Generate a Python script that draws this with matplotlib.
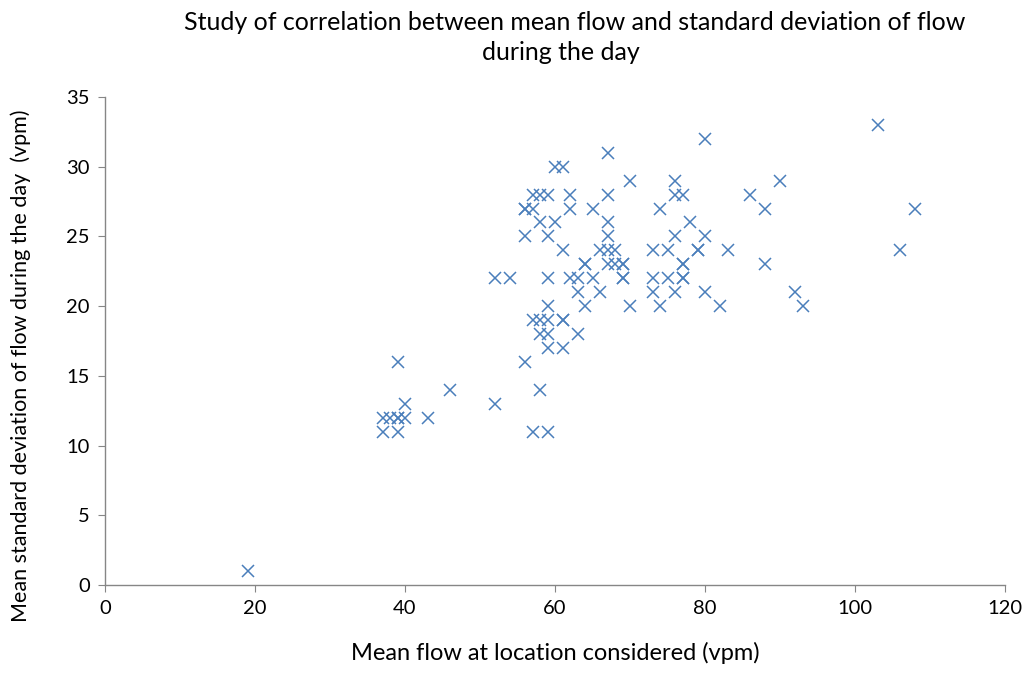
import matplotlib
matplotlib.use("Agg")
import matplotlib.pyplot as plt

mean_flow = [19,
             37, 37, 38, 39, 39, 39, 39, 40, 40, 43, 46,
             52, 52, 54,
             56, 56, 56, 56, 57, 57, 57, 57, 58, 58, 58, 58, 58,
             59, 59, 59, 59, 59, 59, 59, 59,
             60, 60, 61, 61, 61, 61, 61, 62, 62, 62, 63, 63, 63,
             64, 64, 64, 65, 65, 66, 66, 67, 67, 67, 67, 67, 67,
             68, 68, 69, 69, 69, 69, 70, 70,
             73, 73, 73, 74, 74, 75, 75, 76, 76, 76, 76,
             77, 77, 77, 77, 77, 78, 79, 79, 80, 80, 80, 82, 83,
             86, 88, 88, 90, 92, 93, 103, 106, 108]
std_flow = [1,
            12, 11, 12, 12, 12, 16, 11, 12, 13, 12, 14,
            22, 13, 22,
            27, 27, 25, 16, 27, 28, 19, 11, 28, 26, 19, 18, 14,
            28, 25, 22, 20, 19, 18, 17, 11,
            30, 26, 30, 24, 19, 19, 17, 28, 27, 22, 22, 21, 18,
            23, 23, 20, 27, 22, 24, 21, 31, 28, 26, 25, 24, 23,
            24, 23, 23, 23, 22, 22, 29, 20,
            24, 22, 21, 27, 20, 24, 22, 29, 28, 25, 21,
            28, 23, 23, 22, 22, 26, 24, 24, 32, 25, 21, 20, 24,
            28, 27, 23, 29, 21, 20, 33, 24, 27]

x_ticks = [0, 20, 40, 60, 80, 100, 120]
y_ticks = [0, 5, 10, 15, 20, 25, 30, 35]

plt.rcParams['font.family'] = ['Lato', 'DejaVu Sans']

fig = plt.figure(figsize=(10.31, 6.94), dpi=100)
ax = fig.add_axes([105/1031, 1-585/694, 900/1031, 488/694])

ax.plot(mean_flow, std_flow, linestyle='none', marker='x', markersize=9,
        markeredgewidth=1.1, color='#4a7ebb')

ax.set_xlim(0, 120)
ax.set_ylim(0, 35)
ax.set_xticks(x_ticks)
ax.set_yticks(y_ticks)
for s in ['top', 'right']:
    ax.spines[s].set_visible(False)
for s in ['left', 'bottom']:
    ax.spines[s].set_color('#868686')
    ax.spines[s].set_linewidth(1)
ax.tick_params(axis='both', direction='out', length=5, color='#868686',
               labelsize=14.5, labelcolor='black', pad=6)

ax.set_xlabel('Mean flow at location considered (vpm)', fontsize=17, labelpad=18)
ax.set_ylabel('Mean standard deviation of flow during the day  (vpm)', fontsize=15.5)
ax.yaxis.set_label_coords(-0.082, 0.45)

fig.text(575/1031, 1-22/694, 'Study of correlation between mean flow and standard deviation of flow',
         ha='center', va='center', fontsize=18)
fig.text(561/1031, 1-52/694, 'during the day', ha='center', va='center', fontsize=18)

fig.savefig('out.png', dpi=100)
